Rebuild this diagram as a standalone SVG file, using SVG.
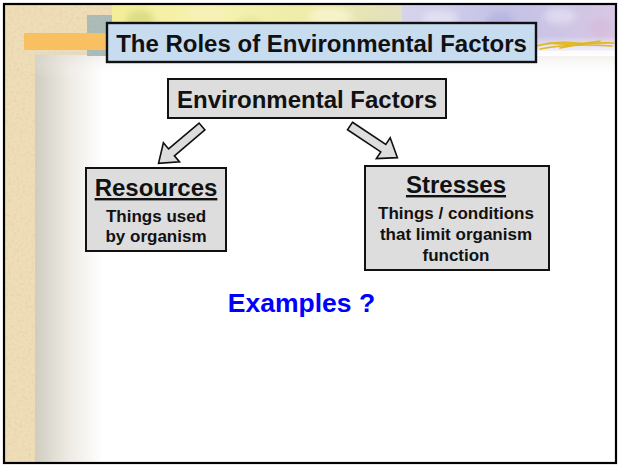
<svg xmlns="http://www.w3.org/2000/svg" xmlns:xlink="http://www.w3.org/1999/xlink" width="619" height="466" viewBox="0 0 619 466">
  <style>
    .lbl { font-family: "Liberation Sans", Arial, sans-serif; font-weight: bold; fill: #111; text-anchor: middle; }
    .head { font-size: 24px; }
    .sub { font-size: 17px; }
    .ul { text-decoration: underline; }
    .box { fill: #DDDDDD; stroke: #111; stroke-width: 2; }
    .arrow { fill: #DDDDDD; stroke: #111; stroke-width: 1.6; stroke-linejoin: miter; }
  </style>
  <defs>
    <!-- block arrow pointing along +x, tail at the origin -->
    <path id="blockArrow" d="M0,-4.5 L40,-4.5 L40,-12.5 L57,0 L40,12.5 L40,4.5 L0,4.5 Z"/>
    <linearGradient id="leftFade" x1="0" y1="0" x2="1" y2="0">
      <stop offset="0" stop-color="#D0CCC0"/>
      <stop offset="0.5" stop-color="#EEEBE4"/>
      <stop offset="1" stop-color="#FFFFFF"/>
    </linearGradient>
    <linearGradient id="topShade" x1="0" y1="0" x2="0" y2="1">
      <stop offset="0" stop-color="#D8D6CE" stop-opacity="0.45"/>
      <stop offset="1" stop-color="#FFFFFF" stop-opacity="0"/>
    </linearGradient>
    <linearGradient id="flowers" x1="0" y1="0" x2="1" y2="0">
      <stop offset="0" stop-color="#F4EE9A"/>
      <stop offset="0.35" stop-color="#F6F2B0"/>
      <stop offset="0.7" stop-color="#EEEAA8"/>
      <stop offset="1" stop-color="#E2E0C0"/>
    </linearGradient>
    <linearGradient id="lavender" x1="0" y1="0" x2="1" y2="0">
      <stop offset="0" stop-color="#D6D4EC"/>
      <stop offset="0.5" stop-color="#C4C2E6"/>
      <stop offset="1" stop-color="#D8C8E4"/>
    </linearGradient>
    <linearGradient id="bandFade" x1="0" y1="0" x2="0" y2="1">
      <stop offset="0" stop-color="#FFFFFF" stop-opacity="0"/>
      <stop offset="1" stop-color="#FFFFFF" stop-opacity="1"/>
    </linearGradient>
    <filter id="grain" x="0" y="0" width="100%" height="100%">
      <feTurbulence type="fractalNoise" baseFrequency="0.35" numOctaves="2" seed="4"/>
      <feColorMatrix type="matrix" values="0 0 0 0 0.55  0 0 0 0 0.45  0 0 0 0 0.3  0 0 0 -1.4 0.75"/>
      <feComposite in2="SourceGraphic" operator="in"/>
    </filter>
    <filter id="speckle" x="0" y="0" width="100%" height="100%">
      <feTurbulence type="fractalNoise" baseFrequency="0.6" numOctaves="2" seed="9"/>
      <feColorMatrix type="matrix" values="0 0 0 0 0.45  0 0 0 0 0.55  0 0 0 0 0.6  0 0 0 -1.2 0.8"/>
      <feComposite in2="SourceGraphic" operator="in"/>
    </filter>
    <filter id="soft" x="-20%" y="-50%" width="140%" height="200%">
      <feGaussianBlur stdDeviation="3"/>
    </filter>
  </defs>

  <!-- slide background -->
  <g id="background">
    <rect x="0" y="0" width="619" height="466" fill="#FFFFFF"/>
    <!-- parchment margin -->
    <rect x="4" y="4" width="112" height="52" fill="#EEDDB6"/>
    <rect x="4" y="4" width="32" height="460" fill="#EEDDB6"/>
    <rect x="4" y="4" width="112" height="52" fill="#EEDDB6" filter="url(#grain)" opacity="0.4"/>
    <rect x="4" y="56" width="32" height="408" fill="#EEDDB6" filter="url(#grain)" opacity="0.4"/>
    <!-- content panel edge shading -->
    <rect x="35" y="55" width="68" height="409" fill="url(#leftFade)"/>
    <rect x="35" y="52" width="580" height="26" fill="url(#topShade)"/>
    <!-- picture strip along the top -->
    <rect x="87" y="15" width="26" height="41" fill="#A9B9B2"/>
    <rect x="87" y="15" width="26" height="41" fill="#A9B9B2" filter="url(#speckle)"/>
    <rect x="112" y="5" width="290" height="51" fill="url(#flowers)"/>
    <g filter="url(#soft)" opacity="0.55">
      <ellipse cx="140" cy="20" rx="14" ry="10" fill="#C8D070"/>
      <ellipse cx="205" cy="14" rx="18" ry="8" fill="#F8F0C0"/>
      <ellipse cx="250" cy="28" rx="16" ry="10" fill="#D8DC88"/>
      <ellipse cx="330" cy="16" rx="22" ry="9" fill="#FFFBE0"/>
      <ellipse cx="375" cy="30" rx="18" ry="10" fill="#D6D8B0"/>
    </g>
    <rect x="402" y="5" width="213" height="46" fill="url(#lavender)"/>
    <g filter="url(#soft)" opacity="0.6">
      <ellipse cx="440" cy="18" rx="18" ry="8" fill="#ECEAF8"/>
      <ellipse cx="500" cy="22" rx="14" ry="10" fill="#B0AEDC"/>
      <ellipse cx="560" cy="16" rx="16" ry="8" fill="#E8E6F6"/>
      <ellipse cx="600" cy="28" rx="12" ry="10" fill="#D8B8D8"/>
    </g>
    <rect x="402" y="36" width="213" height="20" fill="url(#bandFade)"/>
    <!-- golden grass -->
    <g stroke="#E0B820" stroke-width="1.6" fill="none" stroke-linecap="round">
      <path d="M536,46 Q560,40 585,44"/>
      <path d="M540,49 Q570,43 612,46"/>
      <path d="M548,43 Q572,46 600,41"/>
      <path d="M560,48 Q585,42 614,43"/>
    </g>
    <!-- accent bar -->
    <rect x="24" y="33" width="84" height="17" fill="#F8C060"/>
    <!-- slide frame -->
    <rect x="4" y="4" width="612" height="459" fill="none" stroke="#000" stroke-width="2.2"/>
  </g>

  <g id="title">
    <rect x="107" y="23" width="429" height="39" fill="#C8DCF0" stroke="#111" stroke-width="2.4"/>
    <text class="lbl head" x="321.5" y="51.5">The Roles of Environmental Factors</text>
  </g>

  <g id="environmental-factors">
    <rect class="box" x="168" y="79" width="278" height="39"/>
    <text class="lbl head" x="307" y="108">Environmental Factors</text>
  </g>

  <g id="resources">
    <rect class="box" x="86" y="168" width="140" height="83"/>
    <text class="lbl head ul" x="156" y="196">Resources</text>
    <text class="lbl sub" x="156" y="222">Things used</text>
    <text class="lbl sub" x="156" y="242">by organism</text>
  </g>

  <g id="stresses">
    <rect class="box" x="365" y="166" width="184" height="104"/>
    <text class="lbl head ul" x="456" y="193">Stresses</text>
    <text class="lbl sub" x="456" y="219">Things / conditions</text>
    <text class="lbl sub" x="456" y="240">that limit organism</text>
    <text class="lbl sub" x="456" y="261">function</text>
  </g>

  <g id="examples">
    <text x="301.5" y="312" font-family="Liberation Sans, Arial, sans-serif" font-weight="bold" font-size="26.5" fill="#0000FF" text-anchor="middle">Examples ?</text>
  </g>

  <g id="connectors">
    <use xlink:href="#blockArrow" class="arrow" transform="translate(202,126.5) rotate(139.7)"/>
    <use xlink:href="#blockArrow" class="arrow" transform="translate(350,126) rotate(33.7)"/>
  </g>
</svg>
